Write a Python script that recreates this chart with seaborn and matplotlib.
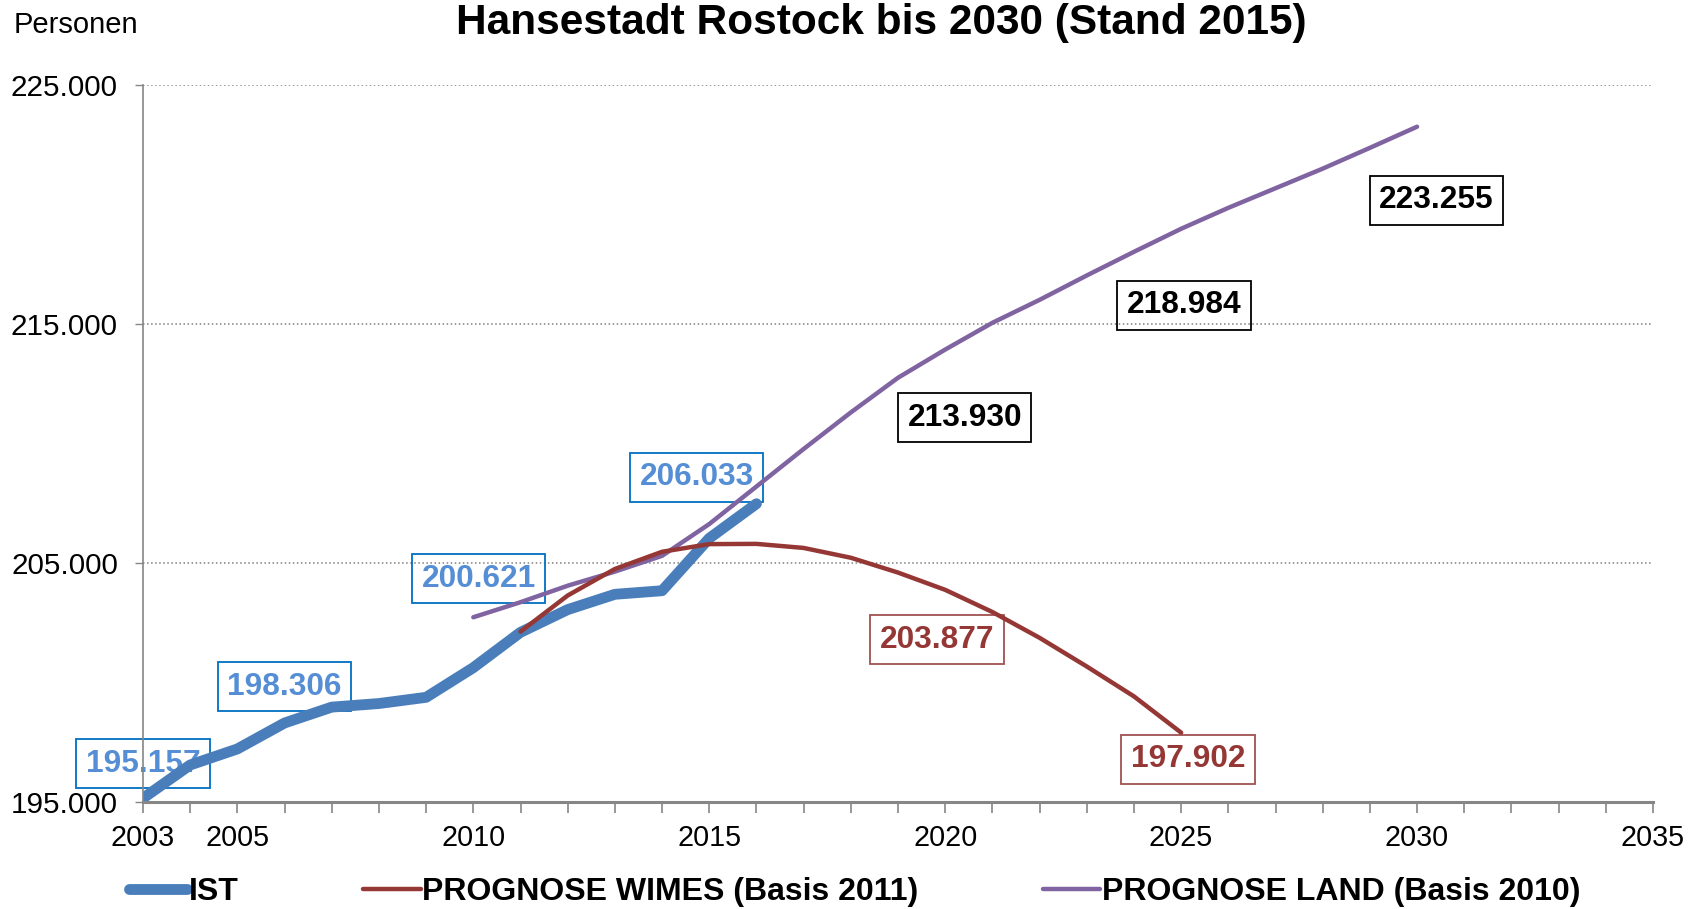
import numpy as np
import pandas as pd
import seaborn as sns
import matplotlib.pyplot as plt
from matplotlib.ticker import FuncFormatter, MultipleLocator, FixedLocator

# ---------------- Daten ----------------
jahre_ist = list(range(2003, 2017))
ist = [195157, 196550, 197220, 198306, 198970, 199120, 199380, 200621,
       202100, 203050, 203690, 203840, 206033, 207480]

jahre_wimes = list(range(2011, 2026))
wimes = [202130, 203640, 204750, 205470, 205790, 205800, 205630, 205220,
         204600, 203877, 202950, 201870, 200670, 199420, 197902]

jahre_land = list(range(2010, 2031))
land = [202730, 203360, 204050, 204640, 205300, 206630, 208200, 209770,
        211300, 212750, 213930, 215050, 216010, 217030, 218020, 218984,
        219860, 220680, 221500, 222370, 223255]

# Jahre, deren Werte beschriftet sind
ist_beschr = [2003, 2006, 2010, 2015]
wimes_beschr = [2020, 2025]
land_beschr = [2020, 2025, 2030]

# Versatz der Beschriftungen (Punkte)
ist_offset = [(0, 25), (0, 26), (4, 64), (-9, 44)]
wimes_offset = [(-6, -36), (5, -19)]
land_offset = [(14, -49), (2, -55), (14, -53)]

df_ist = pd.DataFrame({'Jahr': jahre_ist, 'Personen': ist})
df_wimes = pd.DataFrame({'Jahr': jahre_wimes, 'Personen': wimes})
df_land = pd.DataFrame({'Jahr': jahre_land, 'Personen': land})

# ---------------- Plot ----------------
sns.set_style('white')
plt.rcParams['font.family'] = ['Liberation Sans', 'DejaVu Sans']
plt.rcParams['text.color'] = 'black'
plt.rcParams['xtick.color'] = 'black'
plt.rcParams['ytick.color'] = 'black'
plt.rcParams['axes.labelcolor'] = 'black'

c_ist = '#4A7EBB'
c_wimes = '#953735'
c_land = '#8064A2'

fig = plt.figure(figsize=(16.88, 9.09), dpi=100)
ax = fig.add_axes([143/1688, 1-802/909, 1510/1688, 717/909])

sns.lineplot(data=df_land, x='Jahr', y='Personen', ax=ax, color=c_land, lw=3.2,
             label='PROGNOSE LAND (Basis 2010)', zorder=3)
sns.lineplot(data=df_wimes, x='Jahr', y='Personen', ax=ax, color=c_wimes, lw=3.2,
             label='PROGNOSE WIMES (Basis 2011)', zorder=4)
sns.lineplot(data=df_ist, x='Jahr', y='Personen', ax=ax, color=c_ist, lw=7.8,
             label='IST', zorder=2, solid_capstyle='round')

ax.set_xlim(2003, 2035)
ax.set_ylim(195000, 225000)
ax.set_xlabel('')
ax.set_ylabel('')

ax.xaxis.set_major_locator(FixedLocator([2003, 2005, 2010, 2015, 2020, 2025, 2030, 2035]))
ax.xaxis.set_minor_locator(MultipleLocator(1))
ax.yaxis.set_major_locator(FixedLocator([195000, 205000, 215000, 225000]))
ax.yaxis.set_major_formatter(FuncFormatter(lambda v, p: f'{int(v):,}'.replace(',', '.')))

ax.tick_params(axis='x', which='both', direction='out', length=8, width=1.2,
               color='#868686', labelcolor='black', bottom=True, labelsize=20.7, pad=8)
ax.tick_params(axis='y', which='both', direction='out', length=6, width=1,
               color='#868686', labelcolor='black', left=True, labelsize=21.3, pad=12)

ax.yaxis.grid(True, linestyle=':', color='#808080', lw=1.1)
ax.xaxis.grid(False)
for s in ['top', 'right']:
    ax.spines[s].set_visible(False)
ax.spines['left'].set_color('#868686')
ax.spines['left'].set_linewidth(1.2)
ax.spines['bottom'].set_color('#868686')
ax.spines['bottom'].set_linewidth(2.2)


def beschriften(jahre, werte, auswahl, offsets, tcol, ecol):
    for j, off in zip(auswahl, offsets):
        v = werte[jahre.index(j)]
        ax.annotate(f'{v:,}'.replace(',', '.'), xy=(j, v), xytext=off,
                    textcoords='offset points', ha='center', va='center',
                    fontsize=22.8, fontweight='bold', color=tcol, zorder=1,
                    bbox=dict(boxstyle='square,pad=0.3', fc='none', ec=ecol, lw=1.3))


beschriften(jahre_ist, ist, ist_beschr, ist_offset, '#558ED5', '#0070C0')
beschriften(jahre_wimes, wimes, wimes_beschr, wimes_offset, c_wimes, '#A05050')
beschriften(jahre_land, land, land_beschr, land_offset, 'black', 'black')

# Legende
h, l = ax.get_legend_handles_labels()
order = [l.index('IST'), l.index('PROGNOSE WIMES (Basis 2011)'), l.index('PROGNOSE LAND (Basis 2010)')]
ax.legend().remove()
fig.legend([h[i] for i in order], [l[i] for i in order], loc='center',
           bbox_to_anchor=(855/1688, 1-892/909), ncol=3, frameon=False,
           handlelength=1.8, handletextpad=0.05, columnspacing=3.9,
           prop={'size': 23, 'weight': 'bold'}, labelcolor='black')

fig.text(881/1688, 1-23/909, 'Hansestadt Rostock bis 2030 (Stand 2015)',
         ha='center', va='center', fontsize=30.5, fontweight='bold', color='black')
fig.text(14/1688, 1-25/909, 'Personen', ha='left', va='center', fontsize=21, color='black')

fig.savefig('out.png', dpi=100)
